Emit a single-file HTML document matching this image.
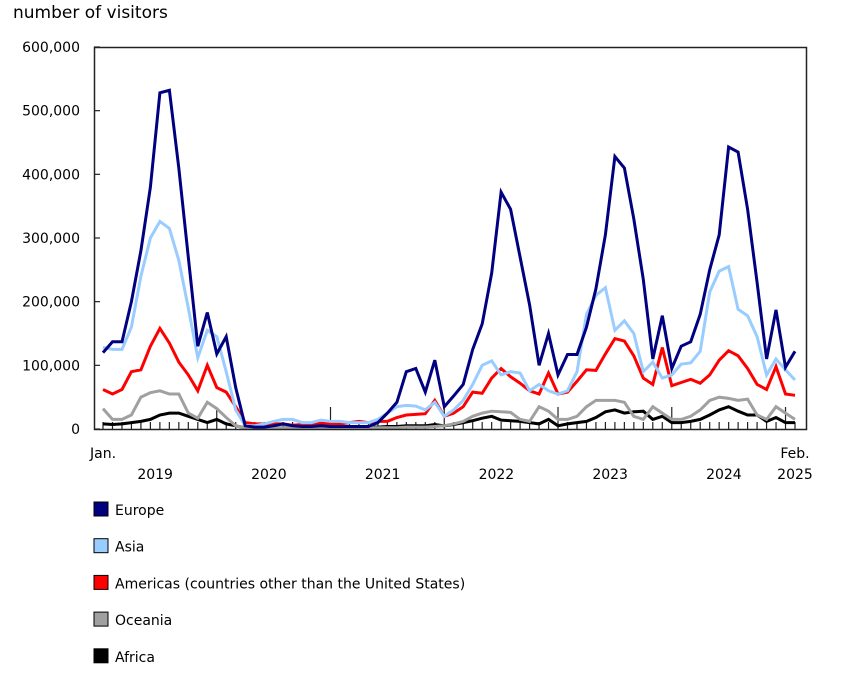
<!DOCTYPE html>
<html><head><meta charset="utf-8"><style>
body{margin:0;background:#fff;}
svg text{font-family:"DejaVu Sans","Liberation Sans",sans-serif;fill:#000;}
</style></head><body>
<svg id="chart" width="847" height="678" viewBox="0 0 847 678" xmlns="http://www.w3.org/2000/svg">
<text x="13" y="18" font-size="17">number of visitors</text>
<g id="yaxis"></g>
<g id="xaxis"></g>
<g id="series"></g>
<rect x="94.5" y="47.5" width="712" height="382" fill="none" stroke="#222" stroke-width="1.5"/>
<g id="legend"></g>
</svg>
<script>
const yTicks=[0,100000,200000,300000,400000,500000,600000];
const yTickLabels=["0","100,000","200,000","300,000","400,000","500,000","600,000"];
const years=["2019","2020","2021","2022","2023","2024","2025"];
const europe=[120,137,137,200,280,380,528,532,410,270,130,183, 118,145,65,5,3,3,5,8,5,4,4,5, 4,4,4,4,4,10,25,42,90,95,58,108, 35,52,70,125,165,245,372,345,270,195,100,150, 85,117,117,160,220,305,428,410,330,235,110,178, 95,130,137,180,250,305,443,435,345,230,110,187, 97,122];
const asia=[128,125,125,160,240,300,326,315,265,190,112,155, 145,90,30,5,5,8,12,15,15,10,10,14, 12,12,10,10,10,15,25,35,37,36,30,42, 20,30,45,70,100,107,85,90,88,60,70,60, 55,60,90,180,210,222,155,170,150,90,105,80, 85,102,104,122,215,248,255,188,178,145,85,110, 93,77];
const americas=[62,55,62,90,93,130,158,135,105,85,60,100, 65,58,35,10,8,8,8,8,6,7,8,9, 8,8,10,12,10,12,12,18,22,23,24,45, 20,25,35,58,56,80,95,82,72,60,55,88, 55,58,75,93,92,118,142,138,115,80,70,128, 68,73,78,72,85,108,123,115,95,70,62,98, 55,53];
const oceania=[32,15,15,22,50,57,60,55,55,25,17,42, 32,18,5,2,2,2,2,2,2,2,2,2, 2,2,2,2,2,2,2,2,3,3,3,4, 5,8,12,20,25,28,27,26,15,12,35,28, 15,15,20,35,45,45,45,42,20,15,35,25, 15,15,20,30,45,50,48,45,47,22,15,35, 25,15];
const africa=[8,7,8,10,12,15,22,25,25,20,15,10, 15,8,5,2,1,1,1,2,2,2,2,2, 2,2,2,3,3,3,4,4,5,5,5,7, 5,7,10,13,17,20,14,13,12,10,8,15, 5,8,10,12,18,27,30,25,27,28,15,20, 10,10,12,15,22,30,35,28,22,22,12,18, 10,10];
const seriesNames=["Africa","Oceania","Americas","Asia","Europe"];
const legendLabels=["Europe","Asia","Americas (countries other than the United States)","Oceania","Africa"];
const ns="http://www.w3.org/2000/svg";
const X0=103,X1=795,Y0=429,Y1=47,N=europe.length;
const xs=i=>X0+(X1-X0)*i/(N-1);
const ys=v=>Y0-(Y0-Y1)*v/600000;
function mk(tag,attrs,parent){const e=document.createElementNS(ns,tag);for(const k in attrs)e.setAttribute(k,attrs[k]);parent.appendChild(e);return e;}
const ya=document.getElementById('yaxis');
yTicks.forEach((t,i)=>{
  const l=mk('line',{x1:94,x2:100,y1:ys(t),y2:ys(t),stroke:'#222','stroke-width':1.2},ya);
  
  
  const tx=mk('text',{x:80,y:ys(t)+5,'text-anchor':'end','font-size':14},ya);
  tx.textContent=yTickLabels[i];
  
  
});
const xa=document.getElementById('xaxis');
for(let i=0;i<N;i++){
  const major=(i%12===0&&i>0);
  const l=mk('line',{x1:xs(i),x2:xs(i),y1:429,y2:major?407:422,stroke:'#222','stroke-width':1.2},xa);
  
  
}
years.forEach((y,k)=>{
  let cx=k<6?xs(k*12+5.5):xs(73);
  const tx=mk('text',{x:cx,y:479,'text-anchor':'middle','font-size':14},xa);
  tx.textContent=y;
  
  
});
const j=mk('text',{x:xs(0),y:458,'text-anchor':'middle','font-size':14},xa);j.textContent="Jan.";


const f=mk('text',{x:xs(73),y:458,'text-anchor':'middle','font-size':14},xa);f.textContent="Feb.";


const data={Africa:africa,Oceania:oceania,Americas:americas,Asia:asia,Europe:europe};
const colors={Europe:'#000080',Asia:'#99ccff',Americas:'#ff0000',Oceania:'#a0a0a0',Africa:'#000000'};
const sg=document.getElementById('series');
seriesNames.forEach(n=>{
  const pts=data[n].map((v,i)=>xs(i).toFixed(1)+','+ys(v*1000).toFixed(1)).join(' ');
  const p=mk('polyline',{points:pts,fill:'none',stroke:colors[n],'stroke-width':3,'stroke-linejoin':'miter'},sg);
  
  
});
const lg=document.getElementById('legend');
const lcol=[colors.Europe,colors.Asia,colors.Americas,colors.Oceania,colors.Africa];
legendLabels.forEach((t,i)=>{
  const y=510+i*36.7;
  const r=mk('rect',{x:94,y:y-8,width:14,height:14,fill:lcol[i],stroke:'#000','stroke-width':1},lg);
  
  
  const tx=mk('text',{x:115,y:y+5,'font-size':14},lg);
  tx.textContent=t;
  
  
});
</script>
</body></html>
